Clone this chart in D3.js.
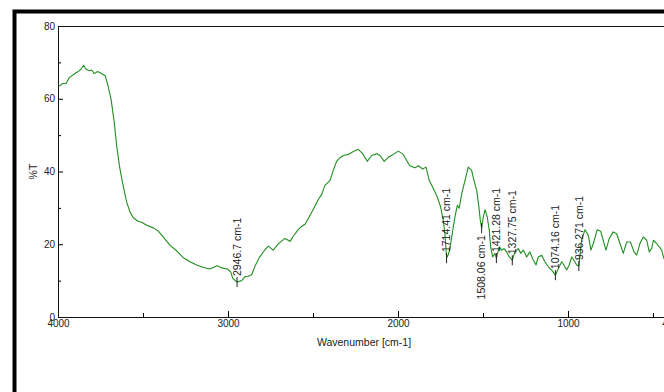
<!DOCTYPE html>
<html>
<head>
<meta charset="utf-8">
<script src="https://cdn.jsdelivr.net/npm/d3@7"></script>
<style>
  body { margin: 0; background: #fff; }
  svg { display: block; font-family: "Liberation Sans", Arial, sans-serif; }
  .tick text { fill: #222; }
</style>
</head>
<body>
<div id="viz"></div>
<script>
var w = 664;
var h = 392;

// spectrum: wavenumber (cm-1) and %T
var wavenumber = [3996, 3972, 3953, 3934, 3904, 3884, 3865, 3849, 3835, 3816, 3802, 3787, 3767, 3747, 3722, 3708,
    3688, 3669, 3655, 3639, 3619, 3596, 3577, 3557, 3531, 3506, 3478, 3439, 3410, 3381, 3341, 3302, 3263, 3224,
    3184, 3145, 3106, 3087, 3063, 3037, 3004, 2984, 2972, 2959, 2946, 2920, 2900, 2881, 2861, 2841, 2812, 2782,
    2763, 2734, 2704, 2665, 2635, 2616, 2587, 2567, 2547, 2528, 2498, 2469, 2449, 2430, 2400, 2381, 2361, 2341,
    2322, 2292, 2263, 2234, 2208, 2181, 2155, 2125, 2106, 2081, 2057, 2028, 1998, 1969, 1949, 1930, 1900, 1881,
    1855, 1835, 1816, 1792, 1769, 1749, 1734, 1724, 1714, 1703, 1694, 1678, 1665, 1651, 1640, 1625, 1606, 1587,
    1567, 1553, 1537, 1524, 1516, 1508, 1498, 1488, 1475, 1463, 1455, 1443, 1430, 1421, 1405, 1390, 1377, 1361,
    1345, 1328, 1312, 1293, 1278, 1263, 1243, 1224, 1204, 1188, 1175, 1155, 1136, 1116, 1096, 1074, 1057, 1037,
    1024, 1008, 993, 978, 965, 949, 936, 920, 900, 881, 865, 851, 828, 808, 793, 777, 757, 734, 714, 694, 675,
    655, 632, 612, 596, 577, 557, 537, 522, 508, 498, 478, 463, 449, 436, 412];
var transmittance = [63.4, 64.2, 64.2, 65.8, 66.8, 67.4, 68.1, 69.2, 68.1, 67.7, 67.9, 66.9, 67.5, 67.0, 66.3, 64.0,
    59.9, 53.5, 47.1, 41.6, 36.6, 31.6, 28.9, 27.3, 26.4, 26.0, 25.2, 24.5, 23.6, 22.0, 19.7, 18.2, 16.3, 15.2,
    14.3, 13.6, 13.2, 13.6, 14.1, 13.5, 13.2, 12.4, 10.6, 10.1, 9.6, 10.0, 11.1, 11.2, 11.6, 14.0, 16.6, 18.5,
    19.5, 18.4, 20.1, 21.6, 20.8, 22.2, 24.0, 24.9, 25.5, 27.1, 29.6, 32.3, 33.7, 36.2, 37.5, 40.3, 42.8, 43.8,
    44.4, 44.7, 45.5, 46.1, 44.9, 42.8, 44.4, 44.9, 44.4, 42.8, 43.9, 44.7, 45.6, 44.7, 43.0, 41.6, 41.0, 41.6,
    40.7, 41.2, 37.5, 35.3, 33.0, 30.2, 26.6, 22.9, 16.2, 17.3, 18.9, 23.8, 27.5, 30.7, 29.9, 33.9, 37.5, 41.2,
    40.3, 37.5, 34.8, 30.2, 26.6, 24.4, 27.5, 29.5, 27.5, 23.8, 19.3, 16.5, 17.5, 16.2, 19.3, 18.4, 18.8, 17.9,
    16.5, 15.6, 17.9, 18.8, 17.5, 18.4, 16.5, 17.9, 15.6, 14.3, 16.5, 17.0, 15.2, 13.8, 12.9, 11.5, 13.3, 15.2,
    14.3, 12.9, 14.3, 16.5, 15.6, 14.3, 14.0, 21.1, 24.0, 22.5, 18.4, 20.2, 24.0, 23.6, 21.1, 18.4, 21.6, 23.4,
    22.9, 20.2, 17.5, 20.6, 20.6, 17.9, 17.0, 20.2, 22.0, 21.1, 17.9, 18.8, 21.1, 20.2, 19.3, 18.4, 16.1, 17.3];

// labelled peaks
var peakWn = [2946.7, 1714.41, 1508.06, 1421.28, 1327.75, 1074.16, 936.271];
var peakT = [9.6, 16.2, 24.4, 16.2, 15.6, 11.5, 14.0];
var peakLabels = ["2946.7 cm-1", "1714.41 cm-1", "1508.06 cm-1", "1421.28 cm-1", "1327.75 cm-1", "1074.16 cm-1", "936.271 cm-1"];
var peakBelow = [false, false, true, false, false, false, false];

var xMajor = [4000, 3000, 2000, 1000, 400];
var xMinor = [3500, 2500, 1500, 500];
var yMajor = [0, 20, 40, 60, 80];
var yMinor = [10, 30, 50, 70];

var spectrum = wavenumber.map(function(d, i) { return { wn: d, t: transmittance[i] }; });

var plotLeft = 58, plotRight = 670, plotTop = 26, plotBottom = 317;

var x = d3.scaleLinear().domain([4000, 400]).range([plotLeft, plotRight]);
var y = d3.scaleLinear().domain([0, 80]).range([plotBottom, plotTop]);

var svg = d3.select("#viz")
    .append("svg")
    .attr("width", w)
    .attr("height", h);

// outer frame
svg.append("rect")
    .attr("x", 14.5)
    .attr("y", 11.5)
    .attr("width", 800)
    .attr("height", 600)
    .attr("fill", "none")
    .attr("stroke", "#000")
    .attr("stroke-width", 4);

svg.append("clipPath")
    .attr("id", "plot-clip")
    .append("rect")
    .attr("x", plotLeft)
    .attr("y", plotTop)
    .attr("width", plotRight - plotLeft)
    .attr("height", plotBottom - plotTop);

// y axis
var yAxis = svg.append("g")
    .attr("transform", "translate(" + plotLeft + ",0)")
    .call(d3.axisLeft(y).tickValues(yMajor).tickFormat(d3.format("d")).tickSize(-5).tickSizeOuter(0).tickPadding(3));
yAxis.select(".domain").remove();
yAxis.selectAll("text").attr("font-size", 10);

var yAxisMinor = svg.append("g")
    .attr("transform", "translate(" + plotLeft + ",0)")
    .call(d3.axisLeft(y).tickValues(yMinor).tickSize(-3).tickFormat(""));
yAxisMinor.select(".domain").remove();

// x axis
var xAxis = svg.append("g")
    .attr("transform", "translate(0," + plotBottom + ")")
    .call(d3.axisBottom(x).tickValues(xMajor).tickFormat(d3.format("d")).tickSize(-6).tickSizeOuter(0).tickPadding(3));
xAxis.select(".domain").remove();
xAxis.selectAll("text").attr("font-size", 10);

var xAxisMinor = svg.append("g")
    .attr("transform", "translate(0," + plotBottom + ")")
    .call(d3.axisBottom(x).tickValues(xMinor).tickSize(-4).tickFormat(""));
xAxisMinor.select(".domain").remove();

// plot box
svg.append("rect")
    .attr("x", plotLeft + 0.5)
    .attr("y", plotTop + 0.5)
    .attr("width", plotRight - plotLeft)
    .attr("height", plotBottom - plotTop)
    .attr("fill", "none")
    .attr("stroke", "#111")
    .attr("stroke-width", 1);

svg.append("text")
    .attr("x", (x(4000) + x(400)) / 2)
    .attr("y", 346)
    .attr("text-anchor", "middle")
    .attr("font-size", 10.5)
    .attr("fill", "#222")
    .text("Wavenumber [cm-1]");

svg.append("text")
    .attr("transform", "translate(37," + y(40) + ") rotate(-90)")
    .attr("text-anchor", "middle")
    .attr("font-size", 10.5)
    .attr("fill", "#222")
    .text("%T");

// spectrum line
var line = d3.line()
    .x(function(d) { return x(d.wn); })
    .y(function(d) { return y(d.t); });

svg.append("path")
    .datum(spectrum)
    .attr("clip-path", "url(#plot-clip)")
    .attr("d", line)
    .attr("fill", "none")
    .attr("stroke", "#1f8f1f")
    .attr("stroke-width", 1.1)
    .attr("stroke-linejoin", "round");

// peak marks and labels
var peaks = svg.append("g").attr("class", "peaks");

peakWn.forEach(function(wn, i) {
    var px = x(wn);
    var py = y(peakT[i]);
    peaks.append("line")
        .attr("x1", px).attr("x2", px)
        .attr("y1", py - 5).attr("y2", py + 5)
        .attr("stroke", "#222")
        .attr("stroke-width", 1);
    peaks.append("text")
        .attr("transform", "translate(" + px + "," + (peakBelow[i] ? py + 7 : py - 6) + ") rotate(-90)")
        .attr("text-anchor", peakBelow[i] ? "end" : "start")
        .attr("dy", "0.35em")
        .attr("font-size", 10.5)
        .attr("fill", "#222")
        .text(peakLabels[i]);
});
</script>
</body>
</html>
